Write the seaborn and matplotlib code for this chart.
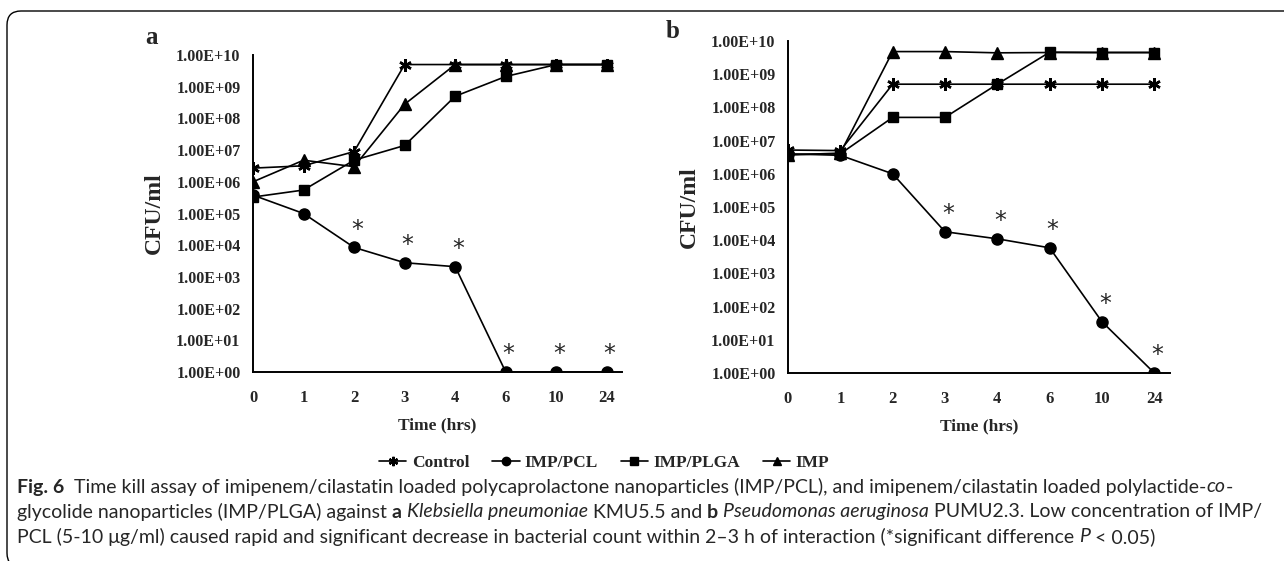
import numpy as np
import pandas as pd
import seaborn as sns
import matplotlib.pyplot as plt
from matplotlib.patches import FancyBboxPatch
from matplotlib.lines import Line2D
from matplotlib.transforms import IdentityTransform

# time points (categorical on the x axis)
times = ["0", "1", "2", "3", "4", "6", "10", "24"]

# panel a - Klebsiella pneumoniae
a_control = [2.7e6, 3.2e6, 9e6, 5e9, 5e9, 5e9, 5e9, 5e9]
a_pcl = [3.8e5, 1e5, 8.5e3, 2.8e3, 2.1e3, 1, 1, 1]
a_plga = [3.3e5, 5.5e5, 4.8e6, 1.4e7, 5e8, 2.1e9, 5e9, 5e9]
a_imp = [1e6, 4.8e6, 3e6, 2.8e8, 5e9, 5e9, 5e9, 5e9]
a_stars = [2, 3, 4, 5, 6, 7]

# panel b - Pseudomonas aeruginosa
b_control = [5.2e6, 5e6, 5e8, 5e8, 5e8, 5e8, 5e8, 5e8]
b_pcl = [4e6, 3.6e6, 1e6, 1.8e4, 1.1e4, 5.9e3, 35, 1]
b_plga = [3.8e6, 4e6, 5e7, 5e7, 5e8, 4.6e9, 4.5e9, 4.5e9]
b_imp = [3.7e6, 4.2e6, 4.8e9, 4.8e9, 4.4e9, 4.5e9, 4.5e9, 4.5e9]
b_stars = [3, 4, 5, 6, 7]

names = ["Control", "IMP/PCL", "IMP/PLGA", "IMP"]
mk = {"Control": (6, 2, 0), "IMP/PCL": "o", "IMP/PLGA": "s", "IMP": "^"}
ms = {"Control": 9, "IMP/PCL": 8, "IMP/PLGA": 7, "IMP": 8}

sns.set_style("white")
plt.rcParams["font.family"] = ["Liberation Serif", "DejaVu Serif"]

fig = plt.figure(figsize=(12.84, 5.61), dpi=100)
W, H = 1284, 561

def px_axes(l, r, b, t):
    return fig.add_axes([l / W, 1 - b / H, (r - l) / W, (b - t) / H])

axa = px_axes(253, 622, 372, 55)
axb = px_axes(788, 1170, 373, 41)

def panel(ax, series, stars, letter, lx, ly):
    pos = np.arange(len(times))
    for nm, vals in zip(names, series):
        sns.lineplot(x=pos, y=vals, ax=ax, color="black", lw=1.2,
                     marker=mk[nm], ms=ms[nm], mec="black", mew=1.8 if nm == "Control" else 1,
                     label=nm, legend=False)
    pcl = series[1]
    for i in stars:
        ax.annotate("*", (pos[i], pcl[i]), xytext=(2, 4), textcoords="offset points",
                    ha="center", va="bottom", fontsize=17, fontfamily="DejaVu Sans")
    ax.set_yscale("log")
    ax.set_ylim(1, 1e10)
    ax.set_xlim(0, 7.3)
    yt = [10.0 ** k for k in range(11)]
    ax.set_yticks(yt)
    ax.set_yticklabels(["1.00E+%02d" % k for k in range(11)], fontweight="bold", fontsize=11.5)
    ax.minorticks_off()
    ax.set_xticks(pos)
    ax.set_xticklabels(times, fontweight="bold", fontsize=12)
    ax.tick_params(axis="both", direction="out", length=5, width=1.2, color="black", pad=4)
    ax.tick_params(axis="x", pad=8)
    for s in ["top", "right"]:
        ax.spines[s].set_visible(False)
    for s in ["left", "bottom"]:
        ax.spines[s].set_color("black")
        ax.spines[s].set_linewidth(1.4)
    ax.set_xlabel("Time (hrs)", fontweight="bold", fontsize=12.5, labelpad=8)
    ax.set_ylabel("CFU/ml", fontweight="bold", fontsize=17, labelpad=8)
    fig.text(lx / W, 1 - ly / H, letter, fontweight="bold", fontsize=18, ha="center", va="center")

panel(axa, [a_control, a_pcl, a_plga, a_imp], a_stars, "a", 151, 38)
panel(axb, [b_control, b_pcl, b_plga, b_imp], b_stars, "b", 673, 31)

handles = [Line2D([], [], color="black", lw=1.2, marker=mk[n], ms=ms[n] * 0.75,
                  mew=1.6 if n == "Control" else 1) for n in names]
fig.legend(handles, names, loc="center", bbox_to_anchor=(604 / W, 1 - 463 / H), ncol=4,
           frameon=False, handlelength=1.6, handletextpad=0.3, columnspacing=1.3,
           prop={"weight": "bold", "size": 12.5})

# caption, drawn run by run so bold/italic pieces follow each other
cap_font = ["Lato", "DejaVu Sans"]
lines = [
    [("Fig. 6", "bold", "normal"), ("  Time kill assay of imipenem/cilastatin loaded polycaprolactone nanoparticles (IMP/PCL), and imipenem/cilastatin loaded polylactide-", "normal", "normal"), ("co", "normal", "italic"), ("-", "normal", "normal")],
    [("glycolide nanoparticles (IMP/PLGA) against ", "normal", "normal"), ("a", "bold", "normal"), (" ", "normal", "normal"), ("Klebsiella pneumoniae", "normal", "italic"), (" KMU5.5 and ", "normal", "normal"), ("b", "bold", "normal"), (" ", "normal", "normal"), ("Pseudomonas aeruginosa", "normal", "italic"), (" PUMU2.3. Low concentration of IMP/", "normal", "normal")],
    [("PCL (5-10 \u03bcg/ml) caused rapid and significant decrease in bacterial count within 2\u20133 h of interaction (*significant difference ", "normal", "normal"), ("P", "normal", "italic"), (" < 0.05)", "normal", "normal")],
]
line_y = [487, 512, 537]
renderer = fig.canvas.get_renderer()

def draw_line(runs, yy, size, keep=True):
    x = 17
    made = []
    for txt, wt, st in runs:
        t = fig.text(x / W, 1 - yy / H, txt, fontsize=size, fontweight=wt, fontstyle=st,
                     family=cap_font, va="center", ha="left")
        x += t.get_window_extent(renderer).width
        made.append(t)
    if not keep:
        for t in made:
            t.remove()
    return x - 17

# size the caption so that the first line spans the same width as in the figure
base = 11.0
w0 = draw_line(lines[0], line_y[0], base, keep=False)
cap_size = base * 1210 / w0
for runs, yy in zip(lines, line_y):
    draw_line(runs, yy, cap_size)

box = FancyBboxPatch((7, -6), 1320, 561 - 11 + 6, boxstyle="round,pad=0,rounding_size=14",
                     transform=IdentityTransform(), fill=False, ec="black", lw=1.0)
fig.patches.append(box)

fig.savefig("out.png", dpi=100)
